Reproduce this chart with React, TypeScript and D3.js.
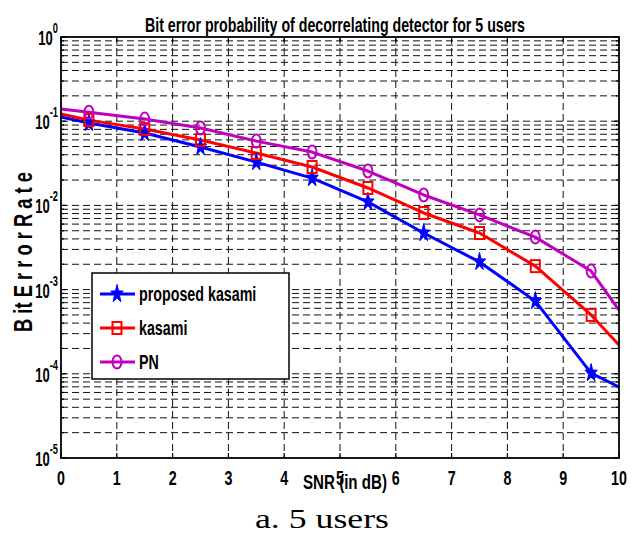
import React from "react";
import * as d3 from "d3";

const snr = [0, 0.5, 1.5, 2.5, 3.5, 4.5, 5.5, 6.5, 7.5, 8.5, 9.5, 10];
const proposedKasami = [0.112, 0.0953, 0.0724, 0.0494, 0.0327, 0.0211, 0.011, 0.0047, 0.00213, 0.00073, 0.000102, 0.0000697];
const kasami = [0.122, 0.103, 0.0807, 0.0598, 0.0419, 0.0286, 0.0161, 0.00813, 0.0047, 0.0019, 0.0005, 0.00022];
const pn = [0.14, 0.128, 0.106, 0.083, 0.058, 0.043, 0.0256, 0.0133, 0.0077, 0.0042, 0.00166, 0.00057];
const xTicks = [0, 1, 2, 3, 4, 5, 6, 7, 8, 9, 10];
const yExponents = [0, -1, -2, -3, -4, -5];
const seriesNames = ["proposed kasami", "kasami", "PN"];
const titleText = "Bit error probability of decorrelating detector for 5 users";
const xLabel = "SNR (in dB)";
const yLabel = "B it E r r o r R a t e";
const caption = "a. 5 users";

const W = 644, H = 547;
const L = 61, R = 619, T = 37, B = 458;
const SANS = "'Liberation Sans Narrow','Arial Narrow','Liberation Sans',Arial,sans-serif";
const SQ = 0.68;

const colors = ["#0000ff", "#ff0000", "#c000c0"];
const kinds = ["star", "square", "circle"];

function starPath(rx: number, ry: number) {
  const pts: string[] = [];
  for (let i = 0; i < 10; i++) {
    const a = -Math.PI / 2 + (i * Math.PI) / 5;
    const f = i % 2 === 0 ? 1 : 0.4;
    pts.push(`${(Math.cos(a) * rx * f).toFixed(2)},${(Math.sin(a) * ry * f).toFixed(2)}`);
  }
  return "M" + pts.join("L") + "Z";
}

function Marker({ kind, color, cx, cy }: { kind: string; color: string; cx: number; cy: number }) {
  if (kind === "star")
    return <path d={starPath(6.5, 9.5)} transform={`translate(${cx},${cy})`} fill={color} stroke={color} strokeWidth={1} />;
  if (kind === "square")
    return <rect x={cx - 4.5} y={cy - 6} width={9} height={12} fill="none" stroke={color} strokeWidth={2} />;
  return <ellipse cx={cx} cy={cy} rx={4.5} ry={6.5} fill="none" stroke={color} strokeWidth={2} />;
}

export default function App() {
  const x = d3.scaleLinear().domain([0, 10]).range([L, R]);
  const y = d3.scaleLog().domain([1e-5, 1]).range([B, T]);
  const series = [proposedKasami, kasami, pn];
  const line = d3
    .line<[number, number]>()
    .x((d) => x(d[0]))
    .y((d) => y(d[1]));

  const minorY: number[] = [];
  for (let e = -5; e < 0; e++) for (let m = 1; m <= 9; m++) minorY.push(m * Math.pow(10, e));
  const gridY = minorY.filter((v) => v > 1e-5 && v < 1);

  return (
    <svg width={W} height={H} style={{ display: "block", position: "absolute", left: 0, top: 0 }}>
      <rect x={0} y={0} width={W} height={H} fill="#fff" />
      {/* grid */}
      <g stroke="#111" strokeWidth={1} strokeDasharray="7,4" fill="none">
        {xTicks.slice(1, -1).map((t) => (
          <line key={"gx" + t} x1={x(t)} x2={x(t)} y1={T} y2={B} />
        ))}
        {gridY.map((v, i) => (
          <line key={"gy" + i} x1={L} x2={R} y1={y(v)} y2={y(v)} />
        ))}
      </g>
      {/* ticks */}
      <g stroke="#000" strokeWidth={1.2}>
        {xTicks.map((t) => (
          <g key={"tx" + t}>
            <line x1={x(t)} x2={x(t)} y1={B} y2={B - 5} />
            <line x1={x(t)} x2={x(t)} y1={T} y2={T + 5} />
          </g>
        ))}
        {minorY.concat([1]).map((v, i) => {
          const len = Math.abs(Math.log10(v) - Math.round(Math.log10(v))) < 1e-9 ? 5 : 3;
          return (
            <g key={"ty" + i}>
              <line x1={L} x2={L + len} y1={y(v)} y2={y(v)} />
              <line x1={R} x2={R - len} y1={y(v)} y2={y(v)} />
            </g>
          );
        })}
      </g>
      {/* series */}
      {series.map((s, si) => (
        <path
          key={"s" + si}
          d={line(snr.map((v, i) => [v, s[i]] as [number, number])) || ""}
          fill="none"
          stroke={colors[si]}
          strokeWidth={3}
          strokeLinejoin="round"
        />
      ))}
      {series.map((s, si) =>
        snr.map((v, i) =>
          i === 0 || i === snr.length - 1 ? null : (
            <Marker key={`m${si}-${i}`} kind={kinds[si]} color={colors[si]} cx={x(v)} cy={y(s[i])} />
          )
        )
      )}
      {/* axes box */}
      <rect x={L} y={T} width={R - L} height={B - T} fill="none" stroke="#000" strokeWidth={1.8} />
      {/* x tick labels */}
      <g fontFamily={SANS} fontWeight="bold" fontSize={21} textAnchor="middle" fill="#000">
        {xTicks.map((t) => (
          <text key={"xl" + t} transform={`translate(${x(t)},485) scale(${SQ},1)`}>
            {t}
          </text>
        ))}
      </g>
      {/* y tick labels */}
      <g fontFamily={SANS} fontWeight="bold" fontSize={21} textAnchor="end" fill="#000">
        {yExponents.map((e) => (
          <text key={"yl" + e} transform={`translate(58,${y(Math.pow(10, e)) + 8}) scale(0.62,1)`}>
            10
            <tspan dy={-12} fontSize={15}>
              {e}
            </tspan>
          </text>
        ))}
      </g>
      {/* title */}
      <text x={335} y={32} textAnchor="middle" fontFamily={SANS} fontWeight="bold" fontSize={21} textLength={380} lengthAdjust="spacingAndGlyphs">
        {titleText}
      </text>
      {/* x label */}
      <text x={345} y={489} textAnchor="middle" fontFamily={SANS} fontWeight="bold" fontSize={21} textLength={84} lengthAdjust="spacingAndGlyphs">
        {xLabel}
      </text>
      {/* y label */}
      <text
        transform={`translate(32,252) rotate(-90)`}
        textAnchor="middle"
        fontFamily={SANS}
        fontWeight="bold"
        fontSize={25}
        textLength={160}
        lengthAdjust="spacingAndGlyphs"
      >
        {yLabel}
      </text>
      {/* legend */}
      <rect x={92} y={273} width={197} height={106} fill="#fff" stroke="#000" strokeWidth={1.5} />
      {seriesNames.map((n, i) => {
        const cy = 294 + i * 34;
        return (
          <g key={"lg" + i}>
            <line x1={100} x2={135} y1={cy} y2={cy} stroke={colors[i]} strokeWidth={3} />
            <Marker kind={kinds[i]} color={colors[i]} cx={117} cy={cy} />
            <text transform={`translate(139,${cy + 7}) scale(${SQ},1)`} fontFamily={SANS} fontWeight="bold" fontSize={21}>
              {n}
            </text>
          </g>
        );
      })}
      {/* caption */}
      <text x={322} y={528} textAnchor="middle" fontFamily="'Liberation Serif','Times New Roman',serif" fontSize={27} textLength={134} lengthAdjust="spacingAndGlyphs">
        {caption}
      </text>
    </svg>
  );
}
